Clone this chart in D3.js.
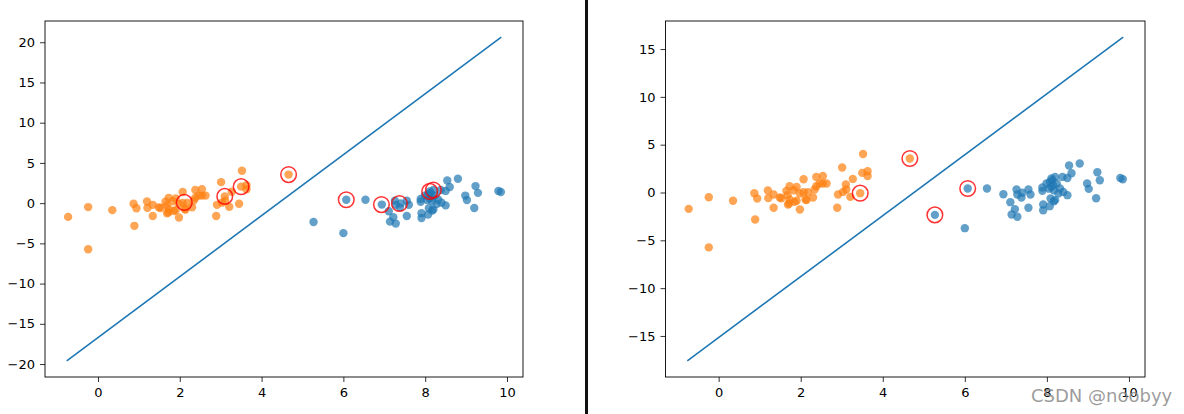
<!DOCTYPE html>
<html>
<head>
<meta charset="utf-8">
<script src="https://cdn.jsdelivr.net/npm/d3@7"></script>
<style>
html,body{margin:0;padding:0;background:#fff;}
svg{display:block;}
text{font-family:"DejaVu Sans",sans-serif;}
</style>
</head>
<body>
<svg id="chart" width="1184" height="414"></svg>
<script>
// ---- data ----
const orangeX = [-0.73,-0.24,0.35,0.89,0.87,0.94,1.20,1.21,1.34,1.34,1.49,1.53,1.65,1.73,1.69,1.73,1.83,1.90,1.90,1.98,1.98,2.07,2.12,2.07,2.18,2.30,2.34,2.38,2.38,2.46,2.54,2.54,2.63,2.89,2.91,3.01,3.03,3.10,3.11,3.21,3.27,3.45,3.52,3.50,3.63,3.63,4.66,-0.24,1.68,1.72,2.14,1.85];
const orangeY = [-1.71,-0.49,-0.87,-2.82,-0.07,-0.63,0.21,-0.59,-0.21,-1.60,-0.52,-0.60,0.17,0.66,-1.25,-0.73,0.24,0.58,-0.87,-1.78,-0.10,0.03,-0.73,1.39,0.03,-0.52,0.31,1.63,0.66,0.94,1.73,0.94,0.94,-1.60,-0.21,2.61,0.06,0.84,0.31,-0.46,1.42,-0.07,4.03,2.05,2.22,1.73,3.55,-5.74,-0.28,-1.15,-0.80,-0.98];
const blueX = [5.27,6.00,6.07,6.54,6.94,7.11,7.14,7.22,7.28,7.26,7.28,7.38,7.40,7.55,7.60,7.55,7.89,7.89,7.91,7.91,7.99,8.07,8.09,8.11,8.13,8.20,8.17,8.24,8.28,8.17,8.32,8.38,8.40,8.50,8.50,8.54,8.60,8.80,8.98,9.02,9.20,9.23,9.29,9.79,9.85,8.07,8.15,8.11,8.20,8.05];
const blueY = [-2.34,-3.73,0.42,0.42,-0.18,-1.01,-2.30,-1.74,-2.54,0.31,-0.21,-0.52,-0.03,0.31,-0.21,-1.60,0.52,0.17,-1.26,-1.85,0.94,-1.43,-0.63,0.58,1.28,1.63,0.24,0.94,-0.10,-0.91,0.42,1.63,0.06,1.52,-0.28,2.82,2.01,3.03,0.94,0.38,-0.60,2.12,1.28,1.52,1.39,1.10,0.76,1.46,-0.80,0.40];

// decision lines (endpoints)
const lineX = [-0.764, 9.86];
const leftLineY = [-19.6, 20.63];
const rightLineY = [-17.6, 16.24];

// highlighted support vectors
const leftSVX = [2.11,3.10,3.50,4.66,6.07,6.93,7.37,8.11,8.20];
const leftSVY = [0.09,0.84,2.05,3.55,0.42,-0.18,-0.04,1.46,1.63];
const rightSVX = [3.45,4.66,5.27,6.07];
const rightSVY = [-0.07,3.55,-2.34,0.42];

const xTicks = [0,2,4,6,8,10];
const leftYTicks = [-20,-15,-10,-5,0,5,10,15,20];
const rightYTicks = [-15,-10,-5,0,5,10,15];

// ---- drawing ----
const svg = d3.select("#chart");
const ORANGE = "#ff7f0e", BLUE = "#1f77b4";

function pad(ext){const w=ext[1]-ext[0];return [ext[0]-0.05*w, ext[1]+0.05*w];}

function panel(box, lineY, svX, svY, yTicks){
  const g = svg.append("g");
  const allX = orangeX.concat(blueX, lineX);
  const allY = orangeY.concat(blueY, lineY);
  const x = d3.scaleLinear().domain(pad(d3.extent(allX))).range([box.l, box.r]);
  const y = d3.scaleLinear().domain(pad(d3.extent(allY))).range([box.b, box.t]);

  // axes
  const xa = g.append("g").attr("transform",`translate(0,${box.b})`)
    .call(d3.axisBottom(x).tickValues(xTicks).tickSize(5).tickPadding(6).tickFormat(d3.format("d")));
  const ya = g.append("g").attr("transform",`translate(${box.l},0)`)
    .call(d3.axisLeft(y).tickValues(yTicks).tickSize(5).tickPadding(5)
      .tickFormat(d=> d<0 ? "\u2212"+Math.abs(d) : String(d)));
  [xa,ya].forEach(a=>{
    a.select(".domain").remove();
    a.selectAll("text").attr("font-size","13px").attr("fill","#000").attr("font-family","DejaVu Sans, sans-serif");
    a.selectAll("line").attr("stroke","#000").attr("stroke-width",0.8);
  });

  // line
  g.append("path")
    .datum(lineX.map((d,i)=>[d,lineY[i]]))
    .attr("d", d3.line().x(d=>x(d[0])).y(d=>y(d[1])))
    .attr("fill","none").attr("stroke",BLUE).attr("stroke-width",1.6);

  // points
  g.selectAll(".b").data(blueX.map((d,i)=>[d,blueY[i]])).join("circle")
    .attr("cx",d=>x(d[0])).attr("cy",d=>y(d[1])).attr("r",4.2)
    .attr("fill",BLUE).attr("fill-opacity",0.7);
  g.selectAll(".o").data(orangeX.map((d,i)=>[d,orangeY[i]])).join("circle")
    .attr("cx",d=>x(d[0])).attr("cy",d=>y(d[1])).attr("r",4.2)
    .attr("fill",ORANGE).attr("fill-opacity",0.7);

  // support vector rings
  g.selectAll(".sv").data(svX.map((d,i)=>[d,svY[i]])).join("circle")
    .attr("cx",d=>x(d[0])).attr("cy",d=>y(d[1])).attr("r",7.8)
    .attr("fill","none").attr("stroke","red").attr("stroke-opacity",0.8).attr("stroke-width",1.5);

  // frame
  g.append("rect").attr("x",box.l).attr("y",box.t).attr("width",box.r-box.l).attr("height",box.b-box.t)
    .attr("fill","none").attr("stroke","#000").attr("stroke-width",0.9);
}

panel({l:45,r:523,t:21,b:377}, leftLineY, leftSVX, leftSVY, leftYTicks);
panel({l:665.5,r:1145,t:21,b:377}, rightLineY, rightSVX, rightSVY, rightYTicks);

// divider between the two figures
svg.append("rect").attr("x",585).attr("y",0).attr("width",3).attr("height",414).attr("fill","#111");

// watermark
svg.append("text").attr("x",1031).attr("y",402).attr("font-size","18px")
  .attr("font-family","Liberation Sans, Arial, sans-serif").attr("fill","#8a8a8a").attr("fill-opacity",0.85)
  .text("CSDN @noobyy");
</script>
</body>
</html>
